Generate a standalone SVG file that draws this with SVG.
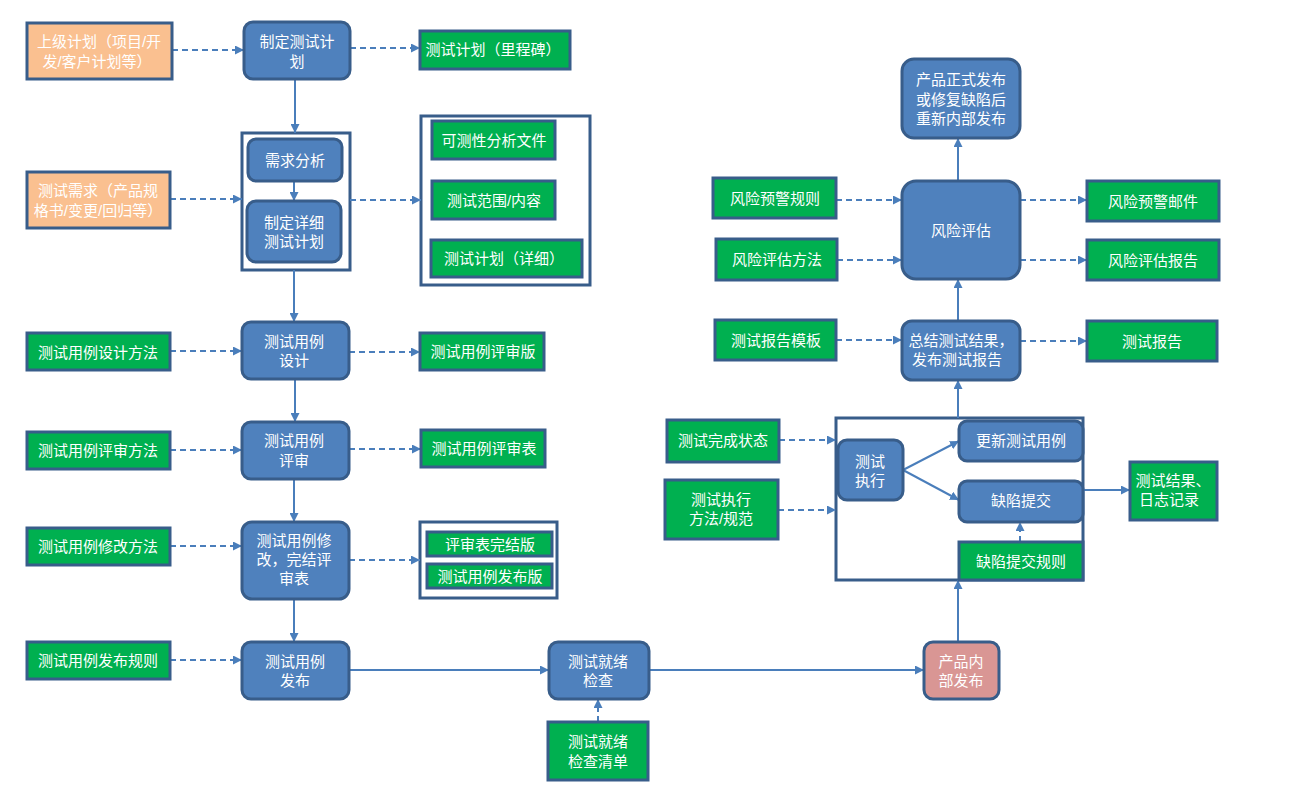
<svg xmlns="http://www.w3.org/2000/svg" width="1308" height="801" viewBox="0 0 1308 801">
<defs>
<marker id="ah" viewBox="0 0 10 10" refX="10" refY="5" markerWidth="9" markerHeight="9" markerUnits="userSpaceOnUse" orient="auto">
<path d="M0,0 L10,5 L0,10 z" fill="#4A7EBB"/>
</marker>
<style>
.b{fill:#4F81BD;stroke:#385D8A;stroke-width:3}
.g{fill:#00B050;stroke:#385D8A;stroke-width:3}
.o{fill:#FAC090;stroke:#385D8A;stroke-width:3}
.p{fill:#D99694;stroke:#385D8A;stroke-width:3}
.c{fill:#FFFFFF;stroke:#385D8A;stroke-width:3}
text{font-family:"Liberation Sans","Noto Sans CJK SC",sans-serif;font-size:15px;fill:#FFFFFF;text-anchor:middle;dominant-baseline:central}
.s{stroke:#4A7EBB;stroke-width:2;fill:none;marker-end:url(#ah)}
.d{stroke:#4A7EBB;stroke-width:2;fill:none;stroke-dasharray:6,4;marker-end:url(#ah)}
</style>
</defs>
<rect width="1308" height="801" fill="#FFFFFF"/>

<g id="containers">
<rect id="c1" class="c" x="242" y="133" width="108" height="137"/>
<rect id="c2" class="c" x="421" y="116" width="169" height="169"/>
<rect id="c3" class="c" x="420" y="522" width="137" height="76"/>
<rect id="c4" class="c" x="836" y="418" width="247" height="162"/>
</g>

<g id="connectors">
<line class="s" x1="295" y1="79" x2="295" y2="133"/>
<line class="s" x1="294" y1="181" x2="294" y2="201"/>
<line class="s" x1="294" y1="270" x2="294" y2="322"/>
<line class="s" x1="295" y1="379" x2="295" y2="422"/>
<line class="s" x1="294" y1="479" x2="294" y2="522"/>
<line class="s" x1="294" y1="599" x2="294" y2="642"/>
<line class="s" x1="349" y1="670" x2="549" y2="670"/>
<line class="s" x1="649" y1="670" x2="924" y2="670"/>
<line class="s" x1="958" y1="642" x2="958" y2="580"/>
<line class="s" x1="958" y1="418" x2="958" y2="380"/>
<line class="s" x1="958" y1="321" x2="958" y2="279"/>
<line class="s" x1="958" y1="181" x2="958" y2="138"/>
<line class="s" x1="903" y1="470" x2="959" y2="441"/>
<line class="s" x1="903" y1="470" x2="959" y2="500"/>
<line class="s" x1="1083" y1="490" x2="1130" y2="490"/>

<line class="d" x1="172" y1="50" x2="244" y2="50"/>
<line class="d" x1="350" y1="48" x2="420" y2="48"/>
<line class="d" x1="170" y1="199" x2="242" y2="199"/>
<line class="d" x1="350" y1="200" x2="421" y2="200"/>
<line class="d" x1="170" y1="351" x2="242" y2="351"/>
<line class="d" x1="349" y1="352" x2="420" y2="352"/>
<line class="d" x1="170" y1="450" x2="242" y2="450"/>
<line class="d" x1="349" y1="449" x2="421" y2="449"/>
<line class="d" x1="170" y1="546" x2="242" y2="546"/>
<line class="d" x1="349" y1="560" x2="420" y2="560"/>
<line class="d" x1="170" y1="660" x2="242" y2="660"/>
<line class="d" x1="598" y1="722" x2="598" y2="699"/>
<line class="d" x1="836" y1="200" x2="902" y2="200"/>
<line class="d" x1="837" y1="260" x2="902" y2="260"/>
<line class="d" x1="1020" y1="200" x2="1087" y2="200"/>
<line class="d" x1="1020" y1="260" x2="1087" y2="260"/>
<line class="d" x1="836" y1="340" x2="902" y2="340"/>
<line class="d" x1="1020" y1="341" x2="1087" y2="341"/>
<line class="d" x1="779" y1="440" x2="836" y2="440"/>
<line class="d" x1="778" y1="510" x2="836" y2="510"/>
<line class="d" x1="1020" y1="542" x2="1020" y2="522"/>
</g>

<g id="n_sjjh"><rect class="o" x="27" y="23" width="145" height="56"/><text x="99" y="41">上级计划（项目/开</text><text x="97" y="61">发/客户计划等）</text></g>
<g id="n_csxq"><rect class="o" x="27" y="172" width="143" height="56"/><text x="98" y="190">测试需求（产品规</text><text x="98" y="210">格书/变更/回归等）</text></g>

<g id="n_zdcsjh"><rect class="b" x="244" y="22" width="106" height="57" rx="9"/><text x="297" y="41">制定测试计</text><text x="297" y="61">划</text></g>
<g id="n_xqfx"><rect class="b" x="248" y="139" width="94" height="42" rx="8"/><text x="295" y="160">需求分析</text></g>
<g id="n_zdxx"><rect class="b" x="247" y="201" width="94" height="61" rx="9"/><text x="294" y="222">制定详细</text><text x="294" y="241">测试计划</text></g>
<g id="n_ylsj"><rect class="b" x="242" y="322" width="107" height="57" rx="9"/><text x="294" y="341">测试用例</text><text x="294" y="360">设计</text></g>
<g id="n_ylps"><rect class="b" x="242" y="422" width="107" height="57" rx="9"/><text x="294" y="440">测试用例</text><text x="294" y="460">评审</text></g>
<g id="n_ylxg"><rect class="b" x="242" y="522" width="107" height="77" rx="10"/><text x="294" y="540">测试用例修</text><text x="294" y="559">改，完结评</text><text x="294" y="578">审表</text></g>
<g id="n_ylfb"><rect class="b" x="242" y="642" width="107" height="57" rx="9"/><text x="295" y="661">测试用例</text><text x="295" y="680">发布</text></g>
<g id="n_jxjc"><rect class="b" x="549" y="642" width="100" height="57" rx="9"/><text x="598" y="661">测试就绪</text><text x="598" y="680">检查</text></g>
<g id="n_cpnbfb"><rect class="p" x="924" y="642" width="75" height="57" rx="9"/><text x="961" y="661">产品内</text><text x="961" y="680">部发布</text></g>
<g id="n_jxqd"><rect class="g" x="548" y="722" width="100" height="58"/><text x="598" y="741">测试就绪</text><text x="598" y="761">检查清单</text></g>

<g id="n_sjff"><rect class="g" x="27" y="333" width="143" height="37"/><text x="98" y="352">测试用例设计方法</text></g>
<g id="n_psff"><rect class="g" x="27" y="432" width="143" height="37"/><text x="98" y="450">测试用例评审方法</text></g>
<g id="n_xgff"><rect class="g" x="27" y="528" width="143" height="37"/><text x="98" y="546">测试用例修改方法</text></g>
<g id="n_fbgz"><rect class="g" x="27" y="642" width="143" height="37"/><text x="98" y="660">测试用例发布规则</text></g>

<g id="n_lcb"><rect class="g" x="420" y="31" width="150" height="38"/><text x="493" y="49">测试计划（里程碑）</text></g>
<g id="n_kcx"><rect class="g" x="432" y="121" width="123" height="38"/><text x="494" y="140">可测性分析文件</text></g>
<g id="n_fw"><rect class="g" x="432" y="181" width="123" height="38"/><text x="494" y="200">测试范围/内容</text></g>
<g id="n_xxjh"><rect class="g" x="431" y="240" width="151" height="37"/><text x="504" y="258">测试计划（详细）</text></g>
<g id="n_psb"><rect class="g" x="420" y="333" width="124" height="37"/><text x="483" y="351">测试用例评审版</text></g>
<g id="n_psbiao"><rect class="g" x="421" y="430" width="124" height="37"/><text x="484" y="448">测试用例评审表</text></g>
<g id="n_wjb"><rect class="g" x="427" y="532" width="125" height="24"/><text x="490" y="544">评审表完结版</text></g>
<g id="n_fbb"><rect class="g" x="427" y="564" width="125" height="24"/><text x="490" y="576">测试用例发布版</text></g>

<g id="n_zsfb"><rect class="b" x="902" y="59" width="118" height="79" rx="12"/><text x="961" y="79">产品正式发布</text><text x="961" y="99">或修复缺陷后</text><text x="961" y="118">重新内部发布</text></g>
<g id="n_fxpg"><rect class="b" x="902" y="181" width="118" height="98" rx="14"/><text x="961" y="230">风险评估</text></g>
<g id="n_zj"><rect class="b" x="902" y="321" width="118" height="59" rx="10"/><text x="961" y="340">总结测试结果，</text><text x="957" y="359">发布测试报告</text></g>
<g id="n_yjgz"><rect class="g" x="713" y="178" width="123" height="40"/><text x="775" y="198">风险预警规则</text></g>
<g id="n_pgff"><rect class="g" x="716" y="239" width="121" height="41"/><text x="777" y="259">风险评估方法</text></g>
<g id="n_bgmb"><rect class="g" x="715" y="320" width="121" height="40"/><text x="776" y="340">测试报告模板</text></g>
<g id="n_yjyj"><rect class="g" x="1087" y="181" width="132" height="40"/><text x="1153" y="201">风险预警邮件</text></g>
<g id="n_pgbg"><rect class="g" x="1087" y="240" width="132" height="40"/><text x="1153" y="260">风险评估报告</text></g>
<g id="n_csbg"><rect class="g" x="1087" y="321" width="130" height="40"/><text x="1152" y="341">测试报告</text></g>

<g id="n_cszx"><rect class="b" x="838" y="440" width="65" height="60" rx="9"/><text x="870" y="461">测试</text><text x="870" y="480">执行</text></g>
<g id="n_gxyl"><rect class="b" x="959" y="421" width="124" height="40" rx="8"/><text x="1021" y="440">更新测试用例</text></g>
<g id="n_qxtj"><rect class="b" x="959" y="481" width="124" height="41" rx="8"/><text x="1021" y="500">缺陷提交</text></g>
<g id="n_tjgz"><rect class="g" x="959" y="542" width="124" height="38"/><text x="1021" y="561">缺陷提交规则</text></g>
<g id="n_wczt"><rect class="g" x="667" y="420" width="112" height="42"/><text x="723" y="440">测试完成状态</text></g>
<g id="n_zxff"><rect class="g" x="665" y="480" width="113" height="59"/><text x="721" y="499">测试执行</text><text x="721" y="518">方法/规范</text></g>
<g id="n_jgrz"><rect class="g" x="1130" y="462" width="87" height="58"/><text x="1173" y="480">测试结果、</text><text x="1169" y="499">日志记录</text></g>
</svg>
